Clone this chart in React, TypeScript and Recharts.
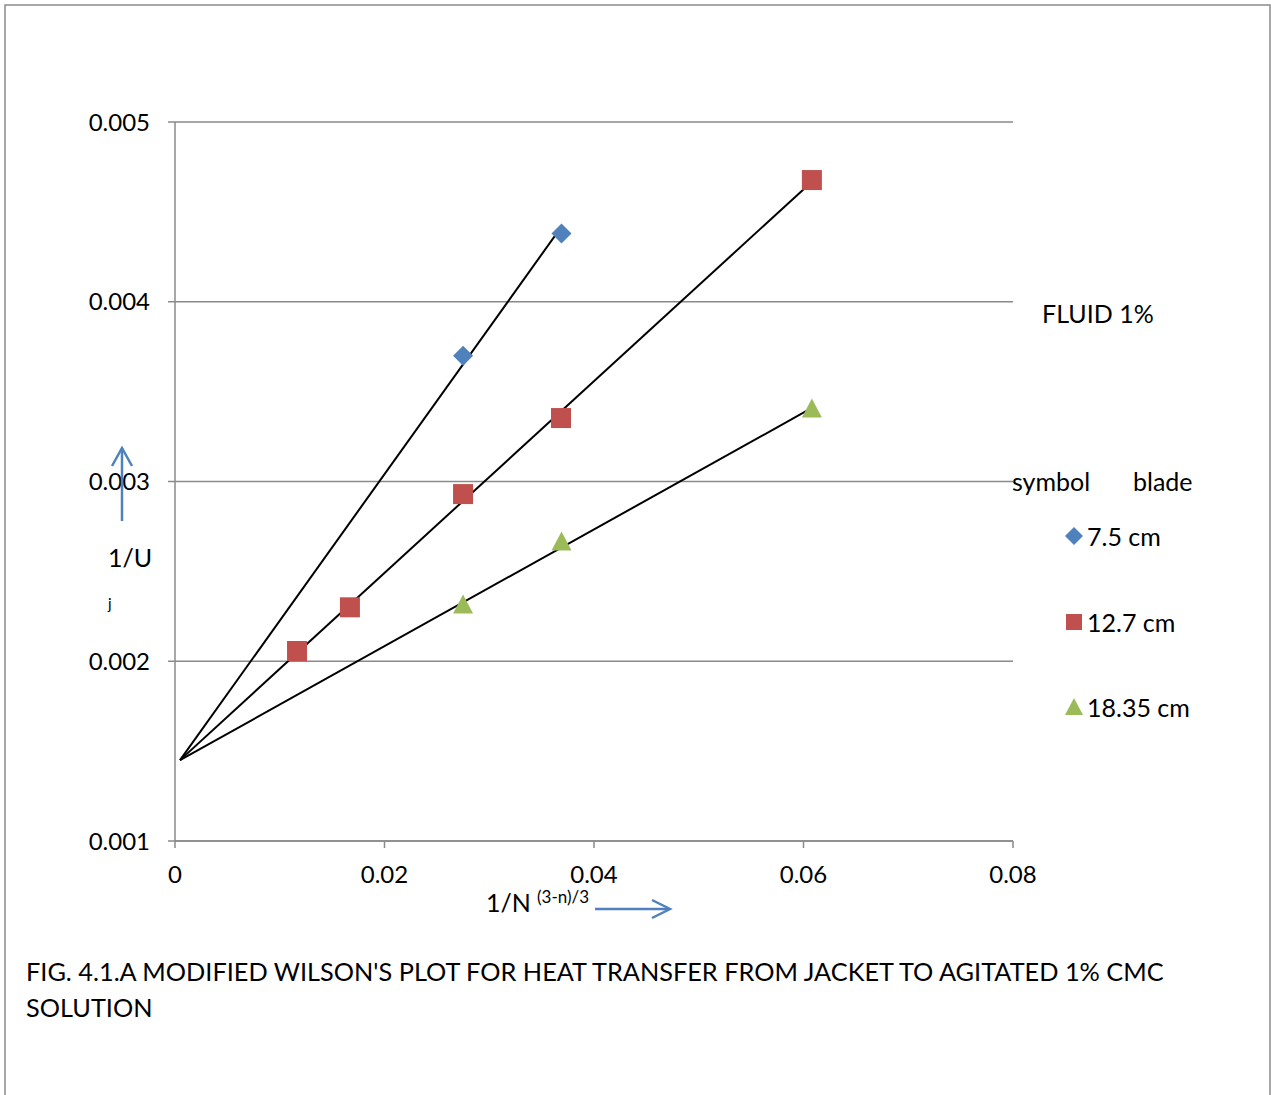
import React from "react";
import {
  ComposedChart,
  Scatter,
  XAxis,
  YAxis,
  CartesianGrid,
  Legend,
} from "recharts";

// ---- data ----
const blade75 = [
  { x: 0.0275, y: 0.0037 },
  { x: 0.0369, y: 0.00438 },
];
const blade127 = [
  { x: 0.01165, y: 0.002057 },
  { x: 0.0167, y: 0.0023 },
  { x: 0.0275, y: 0.00293 },
  { x: 0.03685, y: 0.003353 },
  { x: 0.0608, y: 0.004677 },
];
const blade1835 = [
  { x: 0.0275, y: 0.00231 },
  { x: 0.0369, y: 0.00266 },
  { x: 0.0608, y: 0.0034 },
];
const trend75 = [
  { x: 0.00048, y: 0.00145 },
  { x: 0.0369, y: 0.004418 },
];
const trend127 = [
  { x: 0.00048, y: 0.00145 },
  { x: 0.0608, y: 0.004668 },
];
const trend1835 = [
  { x: 0.00048, y: 0.00145 },
  { x: 0.0608, y: 0.003409 },
];
const xTicks = [0, 0.02, 0.04, 0.06, 0.08];
const yTicks = [0.001, 0.002, 0.003, 0.004, 0.005];
const seriesNames = ["7.5 cm", "12.7 cm", "18.35 cm"];

const BLUE = "#4F81BD";
const RED = "#C0504D";
const GREEN = "#9BBB59";
const FONT = "Lato, 'Open Sans', sans-serif";
const GRID = "#8a8a8a";
const FS = 25;
const TICK_FS = 24;

const Diamond = (props: any) => {
  const { cx, cy } = props;
  const r = 10;
  return (
    <path
      d={`M${cx},${cy - r}L${cx + r},${cy}L${cx},${cy + r}L${cx - r},${cy}Z`}
      fill={BLUE}
    />
  );
};
const Square = (props: any) => {
  const { cx, cy } = props;
  const s = 20;
  return <rect x={cx - s / 2} y={cy - s / 2} width={s} height={s} fill={RED} />;
};
const Triangle = (props: any) => {
  const { cx, cy } = props;
  return (
    <path
      d={`M${cx},${cy - 11}L${cx + 10},${cy + 8}L${cx - 10},${cy + 8}Z`}
      fill={GREEN}
    />
  );
};
const NoShape = () => <g />;

const legendIcon = (i: number) => {
  if (i === 0)
    return (
      <svg width={20} height={20}>
        <path d="M10,1L19,10L10,19L1,10Z" fill={BLUE} />
      </svg>
    );
  if (i === 1)
    return (
      <svg width={20} height={20}>
        <rect x={2} y={2} width={16} height={16} fill={RED} />
      </svg>
    );
  return (
    <svg width={20} height={20}>
      <path d="M10,1L19,18L1,18Z" fill={GREEN} />
    </svg>
  );
};

const renderLegend = () => (
  <div style={{ position: "relative", width: 260, height: 430, fontFamily: FONT, fontSize: FS, color: "#000" }}>
    <div style={{ position: "absolute", left: 30, top: 0, whiteSpace: "pre" }}>FLUID 1%</div>
    <div style={{ position: "absolute", left: 0, top: 168, whiteSpace: "pre" }}>symbol</div>
    <div style={{ position: "absolute", left: 121, top: 168, whiteSpace: "pre" }}>blade</div>
    {seriesNames.map((n, i) => (
      <div
        key={n}
        style={{ position: "absolute", left: 52, top: 223 + i * 85.5, display: "flex", alignItems: "center", whiteSpace: "pre" }}
      >
        {legendIcon(i)}
        <span style={{ marginLeft: 3 }}>{n}</span>
      </div>
    ))}
  </div>
);

export default function App() {
  return (
    <div style={{ position: "absolute", left: 0, top: 0, width: 1271, height: 1095, background: "#fff", overflow: "hidden" }}>
      <ComposedChart
        width={1271}
        height={1095}
        margin={{ top: 122, right: 258, bottom: 224, left: 115 }}
        style={{ fontFamily: FONT }}
      >
        <CartesianGrid horizontal vertical={false} stroke={GRID} strokeWidth={1.5} />
        <XAxis
          type="number"
          dataKey="x"
          domain={[0, 0.08]}
          ticks={xTicks}
          tickFormatter={(v: number) => (v === 0 ? "0" : String(v))}
          axisLine={{ stroke: GRID, strokeWidth: 1.5 }}
          tickLine={{ stroke: GRID, strokeWidth: 1.5 }}
          tickSize={7}
          tickMargin={18}
          height={30}
          tick={{ fill: "#000", fontSize: TICK_FS, fontFamily: FONT }}
          interval={0}
        />
        <YAxis
          type="number"
          dataKey="y"
          domain={[0.001, 0.005]}
          ticks={yTicks}
          tickFormatter={(v: number) => v.toFixed(3)}
          axisLine={{ stroke: GRID, strokeWidth: 1.5 }}
          tickLine={{ stroke: GRID, strokeWidth: 1.5 }}
          tickSize={7}
          tickMargin={18}
          width={60}
          tick={{ fill: "#000", fontSize: TICK_FS, fontFamily: FONT }}
          interval={0}
        />
        <Legend
          content={renderLegend}
          layout="horizontal"
          verticalAlign="middle"
          align="center"
          wrapperStyle={{ position: "absolute", left: 1012, top: 298, width: 260 }}
        />
        <Scatter name="trend 7.5" data={trend75} line={{ stroke: "#000", strokeWidth: 2 }} shape={NoShape} legendType="none" isAnimationActive={false} />
        <Scatter name="trend 12.7" data={trend127} line={{ stroke: "#000", strokeWidth: 2 }} shape={NoShape} legendType="none" isAnimationActive={false} />
        <Scatter name="trend 18.35" data={trend1835} line={{ stroke: "#000", strokeWidth: 2 }} shape={NoShape} legendType="none" isAnimationActive={false} />
        <Scatter name={seriesNames[0]} data={blade75} fill={BLUE} shape={Diamond} isAnimationActive={false} />
        <Scatter name={seriesNames[1]} data={blade127} fill={RED} shape={Square} isAnimationActive={false} />
        <Scatter name={seriesNames[2]} data={blade1835} fill={GREEN} shape={Triangle} isAnimationActive={false} />
      </ComposedChart>

      {/* axis labels and arrows */}
      <svg width={1271} height={1095} style={{ position: "absolute", left: 0, top: 0, pointerEvents: "none" }}>
        <rect x={5} y={5} width={1265} height={1100} fill="none" stroke="#8a8a8a" strokeWidth={1.5} />
        <g stroke={BLUE} strokeWidth={2.5} fill="none">
          <line x1={122} y1={521} x2={122} y2={448} />
          <polyline points="112,466 122,448 132,466" />
          <line x1={595} y1={909} x2={669} y2={909} />
          <polyline points="652,900 670,909 652,918" />
        </g>
        <text x={108} y={567} fontFamily={FONT} fontSize={FS} fill="#000">1/U</text>
        <text x={108} y={609} fontFamily={FONT} fontSize={15} fill="#000">j</text>
        <text x={486} y={912} fontFamily={FONT} fontSize={FS} fill="#000">1/N</text>
        <text x={537} y={903} fontFamily={FONT} fontSize={17} fill="#000">(3-n)/3</text>
      </svg>

      <div
        style={{
          position: "absolute",
          left: 26,
          top: 953,
          width: 1170,
          fontFamily: FONT,
          fontSize: 25.3,
          lineHeight: "36px",
          color: "#000",
        }}
      >
        FIG. 4.1.A MODIFIED WILSON'S PLOT FOR HEAT TRANSFER FROM JACKET TO AGITATED 1% CMC SOLUTION
      </div>
    </div>
  );
}
